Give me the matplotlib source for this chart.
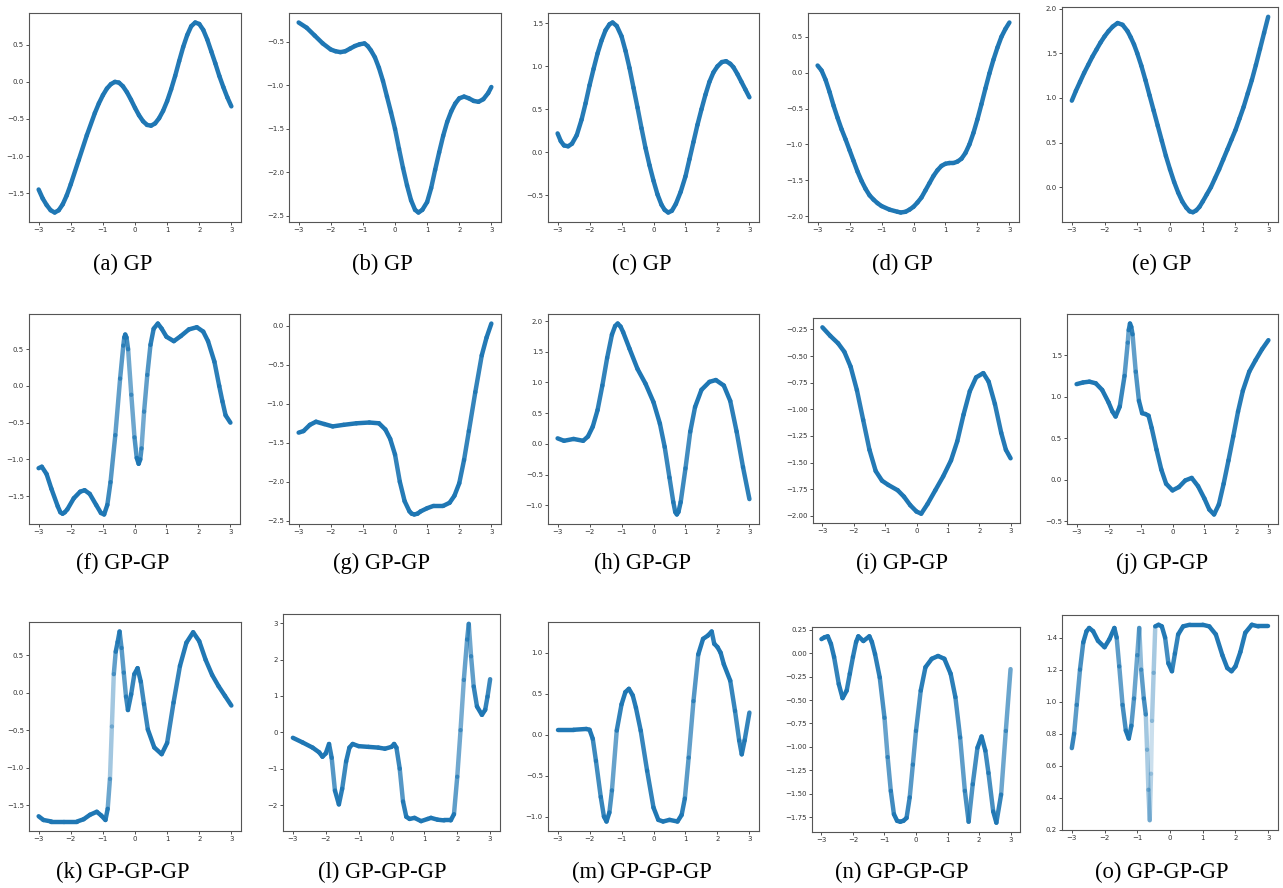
import numpy as np
import matplotlib
matplotlib.use("Agg")
import matplotlib.pyplot as plt
from matplotlib.collections import LineCollection
from matplotlib.colors import to_rgba

# ---------------- data ----------------
X_A = [-3, -2.875, -2.75, -2.625, -2.5, -2.375, -2.25, -2.125, -2, -1.75, -1.5, -1.25, -1.125, -1, -0.875, -0.75, -0.625, -0.5, -0.375, -0.25, -0.125, 0, 0.125, 0.25, 0.375, 0.5, 0.625, 0.75, 0.875, 1, 1.125, 1.25, 1.375, 1.5, 1.625, 1.75, 1.875, 2, 2.125, 2.25, 2.375, 2.5, 2.625, 2.75, 2.875, 3]
Y_A = [-1.45, -1.57, -1.66, -1.73, -1.76, -1.73, -1.65, -1.53, -1.38, -1.05, -0.72, -0.42, -0.29, -0.18, -0.09, -0.03, 0.0, -0.01, -0.06, -0.14, -0.24, -0.35, -0.45, -0.53, -0.58, -0.59, -0.56, -0.49, -0.39, -0.26, -0.10, 0.08, 0.28, 0.47, 0.63, 0.75, 0.80, 0.78, 0.70, 0.57, 0.41, 0.25, 0.08, -0.07, -0.21, -0.33]

X_B = [-3, -2.75, -2.5, -2.25, -2, -1.85, -1.7, -1.55, -1.4, -1.25, -1.1, -0.95, -0.85, -0.75, -0.625, -0.5, -0.375, -0.25, -0.125, 0, 0.125, 0.25, 0.375, 0.5, 0.625, 0.73, 0.85, 1, 1.125, 1.25, 1.375, 1.5, 1.625, 1.75, 1.875, 2, 2.15, 2.3, 2.45, 2.6, 2.75, 2.9, 3]
Y_B = [-0.28, -0.34, -0.43, -0.52, -0.59, -0.61, -0.62, -0.61, -0.58, -0.55, -0.53, -0.52, -0.55, -0.60, -0.68, -0.80, -0.95, -1.13, -1.31, -1.50, -1.73, -1.95, -2.15, -2.32, -2.43, -2.46, -2.43, -2.34, -2.18, -1.97, -1.77, -1.58, -1.42, -1.30, -1.21, -1.15, -1.13, -1.15, -1.18, -1.19, -1.16, -1.09, -1.02]

X_C = [-3, -2.9, -2.8, -2.67, -2.55, -2.4, -2.25, -2.125, -2, -1.875, -1.75, -1.625, -1.5, -1.375, -1.28, -1.15, -1.0, -0.875, -0.75, -0.625, -0.5, -0.375, -0.25, -0.125, 0, 0.125, 0.25, 0.35, 0.46, 0.575, 0.7, 0.85, 1, 1.125, 1.25, 1.375, 1.5, 1.625, 1.75, 1.875, 2, 2.14, 2.27, 2.4, 2.5, 2.625, 2.75, 2.875, 3]
Y_C = [0.22, 0.13, 0.08, 0.07, 0.10, 0.20, 0.38, 0.57, 0.78, 0.97, 1.15, 1.30, 1.42, 1.49, 1.51, 1.47, 1.35, 1.18, 0.98, 0.75, 0.52, 0.28, 0.05, -0.15, -0.33, -0.49, -0.61, -0.67, -0.70, -0.68, -0.60, -0.46, -0.28, -0.08, 0.12, 0.32, 0.50, 0.67, 0.82, 0.93, 1.00, 1.05, 1.06, 1.03, 0.99, 0.91, 0.82, 0.73, 0.64]

X_D = [-3, -2.875, -2.75, -2.625, -2.5, -2.375, -2.25, -2.125, -2, -1.875, -1.75, -1.625, -1.5, -1.375, -1.25, -1.125, -1, -0.75, -0.5, -0.4, -0.25, -0.125, 0, 0.125, 0.25, 0.375, 0.5, 0.625, 0.75, 0.875, 1, 1.125, 1.25, 1.375, 1.5, 1.625, 1.75, 1.875, 2, 2.125, 2.25, 2.375, 2.5, 2.625, 2.75, 2.875, 3]
Y_D = [0.10, 0.03, -0.10, -0.27, -0.46, -0.63, -0.79, -0.93, -1.08, -1.23, -1.38, -1.51, -1.62, -1.71, -1.77, -1.82, -1.86, -1.91, -1.94, -1.95, -1.94, -1.91, -1.87, -1.81, -1.74, -1.64, -1.54, -1.44, -1.36, -1.30, -1.27, -1.26, -1.26, -1.24, -1.20, -1.12, -1.00, -0.84, -0.65, -0.44, -0.22, -0.01, 0.18, 0.35, 0.50, 0.61, 0.70]

X_E = [-3, -2.875, -2.75, -2.625, -2.5, -2.375, -2.25, -2.125, -2, -1.875, -1.75, -1.6, -1.45, -1.3, -1.2, -1.1, -1, -0.875, -0.75, -0.625, -0.5, -0.375, -0.25, -0.125, 0, 0.125, 0.25, 0.375, 0.5, 0.6, 0.7, 0.8, 0.9, 1, 1.125, 1.25, 1.375, 1.5, 1.625, 1.75, 1.875, 2, 2.125, 2.25, 2.375, 2.5, 2.625, 2.75, 2.875, 3]
Y_E = [0.97, 1.08, 1.18, 1.28, 1.37, 1.46, 1.54, 1.62, 1.69, 1.75, 1.80, 1.84, 1.82, 1.75, 1.68, 1.60, 1.50, 1.36, 1.20, 1.03, 0.86, 0.69, 0.52, 0.35, 0.20, 0.06, -0.06, -0.16, -0.23, -0.27, -0.28, -0.26, -0.22, -0.16, -0.08, 0.00, 0.10, 0.20, 0.31, 0.42, 0.53, 0.64, 0.77, 0.90, 1.05, 1.20, 1.37, 1.55, 1.73, 1.91]

X_F = [-3, -2.9, -2.75, -2.6, -2.4, -2.32, -2.25, -2.18, -2.1, -1.9, -1.7, -1.56, -1.4, -1.2, -1.05, -0.95, -0.85, -0.75, -0.6, -0.45, -0.35, -0.32, -0.29, -0.25, -0.2, -0.1, 0.0, 0.07, 0.13, 0.18, 0.22, 0.3, 0.4, 0.5, 0.6, 0.73, 0.85, 1.0, 1.23, 1.45, 1.7, 1.95, 2.15, 2.3, 2.5, 2.65, 2.75, 2.85, 3]
Y_F = [-1.12, -1.10, -1.20, -1.40, -1.64, -1.72, -1.74, -1.72, -1.68, -1.53, -1.44, -1.42, -1.47, -1.62, -1.73, -1.75, -1.62, -1.31, -0.67, 0.10, 0.55, 0.66, 0.70, 0.66, 0.50, -0.12, -0.70, -0.98, -1.06, -1.00, -0.85, -0.35, 0.15, 0.56, 0.78, 0.85, 0.78, 0.67, 0.61, 0.68, 0.77, 0.80, 0.74, 0.61, 0.33, 0.00, -0.21, -0.40, -0.50]

X_G = [-3, -2.85, -2.65, -2.46, -2.2, -1.94, -1.6, -1.2, -0.8, -0.5, -0.3, -0.15, 0, 0.15, 0.3, 0.45, 0.52, 0.6, 0.7, 0.8, 1.0, 1.2, 1.5, 1.7, 1.85, 2.0, 2.15, 2.3, 2.5, 2.7, 2.85, 3]
Y_G = [-1.37, -1.35, -1.27, -1.23, -1.26, -1.29, -1.27, -1.25, -1.24, -1.25, -1.33, -1.45, -1.65, -2.00, -2.25, -2.38, -2.41, -2.42, -2.41, -2.38, -2.34, -2.31, -2.31, -2.27, -2.18, -2.02, -1.72, -1.35, -0.85, -0.38, -0.15, 0.03]

X_H = [-3, -2.8, -2.5, -2.2, -2.05, -1.9, -1.75, -1.6, -1.45, -1.3, -1.2, -1.12, -1.03, -0.95, -0.75, -0.5, -0.25, 0, 0.2, 0.35, 0.5, 0.62, 0.68, 0.73, 0.78, 0.85, 1.0, 1.15, 1.3, 1.5, 1.75, 1.95, 2.2, 2.4, 2.6, 2.8, 3]
Y_H = [0.09, 0.05, 0.08, 0.05, 0.12, 0.28, 0.55, 0.95, 1.40, 1.78, 1.92, 1.96, 1.91, 1.82, 1.55, 1.22, 0.98, 0.68, 0.33, -0.05, -0.55, -0.95, -1.11, -1.15, -1.11, -0.95, -0.40, 0.20, 0.60, 0.88, 1.01, 1.04, 0.95, 0.70, 0.20, -0.38, -0.90]

X_I = [-3, -2.75, -2.5, -2.3, -2.1, -1.9, -1.7, -1.5, -1.3, -1.1, -0.9, -0.6, -0.4, -0.2, 0.0, 0.15, 0.35, 0.6, 0.85, 1.1, 1.3, 1.5, 1.7, 1.9, 2.13, 2.3, 2.5, 2.7, 2.85, 3]
Y_I = [-0.23, -0.31, -0.38, -0.46, -0.60, -0.82, -1.10, -1.38, -1.58, -1.67, -1.71, -1.76, -1.82, -1.90, -1.96, -1.98, -1.89, -1.76, -1.63, -1.48, -1.30, -1.05, -0.83, -0.70, -0.66, -0.74, -0.95, -1.22, -1.38, -1.46]

X_J = [-3, -2.8, -2.6, -2.4, -2.2, -2.0, -1.88, -1.78, -1.65, -1.5, -1.4, -1.37, -1.33, -1.29, -1.25, -1.15, -1.05, -0.95, -0.85, -0.75, -0.65, -0.5, -0.35, -0.2, 0.0, 0.2, 0.4, 0.6, 0.8, 1.0, 1.15, 1.3, 1.45, 1.6, 1.75, 1.9, 2.05, 2.2, 2.4, 2.6, 2.8, 3]
Y_J = [1.15, 1.17, 1.18, 1.16, 1.08, 0.93, 0.82, 0.76, 0.88, 1.25, 1.65, 1.80, 1.88, 1.84, 1.75, 1.30, 0.95, 0.80, 0.79, 0.77, 0.62, 0.36, 0.12, -0.05, -0.13, -0.09, -0.01, 0.02, -0.08, -0.23, -0.36, -0.42, -0.30, -0.05, 0.23, 0.52, 0.82, 1.07, 1.30, 1.44, 1.57, 1.68]

X_K = [-3, -2.85, -2.6, -2.2, -1.8, -1.6, -1.4, -1.19, -1.05, -0.92, -0.85, -0.78, -0.72, -0.66, -0.6, -0.54, -0.48, -0.42, -0.35, -0.28, -0.22, -0.12, -0.02, 0.08, 0.18, 0.28, 0.4, 0.6, 0.83, 1.0, 1.2, 1.4, 1.6, 1.81, 2.0, 2.2, 2.4, 2.6, 2.8, 3]
Y_K = [-1.65, -1.70, -1.72, -1.72, -1.72, -1.69, -1.63, -1.59, -1.64, -1.70, -1.55, -1.15, -0.45, 0.25, 0.55, 0.68, 0.82, 0.60, 0.27, -0.05, -0.23, -0.02, 0.25, 0.33, 0.15, -0.15, -0.49, -0.73, -0.82, -0.67, -0.13, 0.36, 0.67, 0.81, 0.69, 0.44, 0.24, 0.09, -0.04, -0.17]

X_L = [-3, -2.7, -2.4, -2.2, -2.1, -2.0, -1.9, -1.82, -1.72, -1.6, -1.5, -1.38, -1.28, -1.18, -1.0, -0.7, -0.4, -0.2, 0.0, 0.08, 0.15, 0.25, 0.35, 0.45, 0.55, 0.7, 0.9, 1.1, 1.2, 1.4, 1.6, 1.8, 1.9, 2.0, 2.1, 2.2, 2.3, 2.35, 2.42, 2.5, 2.6, 2.75, 2.85, 2.92, 3]
Y_L = [-0.15, -0.28, -0.42, -0.55, -0.67, -0.58, -0.32, -0.70, -1.60, -1.98, -1.55, -0.80, -0.42, -0.32, -0.38, -0.40, -0.42, -0.45, -0.40, -0.32, -0.42, -1.00, -1.90, -2.32, -2.38, -2.35, -2.44, -2.38, -2.35, -2.40, -2.42, -2.42, -2.25, -1.22, 0.06, 1.44, 2.55, 2.98, 2.09, 1.26, 0.71, 0.48, 0.62, 0.98, 1.46]

X_M = [-3, -2.5, -2.1, -2.0, -1.9, -1.8, -1.65, -1.55, -1.47, -1.38, -1.3, -1.15, -1.0, -0.88, -0.77, -0.65, -0.55, -0.4, -0.2, 0.0, 0.15, 0.3, 0.5, 0.75, 0.88, 0.98, 1.1, 1.25, 1.4, 1.55, 1.7, 1.82, 1.9, 2.0, 2.1, 2.2, 2.4, 2.55, 2.68, 2.76, 2.85, 3]
Y_M = [0.06, 0.06, 0.07, 0.06, -0.05, -0.32, -0.76, -1.00, -1.06, -0.95, -0.68, 0.05, 0.37, 0.52, 0.56, 0.48, 0.33, 0.05, -0.44, -0.89, -1.04, -1.06, -1.04, -1.06, -0.98, -0.78, -0.28, 0.41, 0.98, 1.17, 1.21, 1.26, 1.11, 1.07, 1.00, 0.86, 0.66, 0.29, -0.07, -0.24, -0.07, 0.27]

X_N = [-3, -2.9, -2.8, -2.7, -2.6, -2.45, -2.33, -2.2, -2.1, -2.0, -1.9, -1.83, -1.67, -1.48, -1.4, -1.3, -1.15, -1.0, -0.9, -0.8, -0.7, -0.6, -0.5, -0.4, -0.3, -0.2, -0.1, 0.0, 0.15, 0.3, 0.5, 0.7, 0.9, 1.1, 1.25, 1.4, 1.55, 1.67, 1.8, 1.95, 2.08, 2.2, 2.3, 2.45, 2.55, 2.7, 2.85, 3]
Y_N = [0.15, 0.17, 0.18, 0.10, -0.04, -0.33, -0.48, -0.40, -0.22, -0.04, 0.12, 0.18, 0.13, 0.18, 0.12, -0.01, -0.26, -0.69, -1.11, -1.47, -1.72, -1.79, -1.80, -1.79, -1.76, -1.54, -1.19, -0.83, -0.40, -0.15, -0.06, -0.03, -0.06, -0.22, -0.47, -0.90, -1.47, -1.80, -1.40, -1.01, -0.89, -1.04, -1.28, -1.69, -1.81, -1.51, -0.83, -0.17]

X_O = [-3, -2.93, -2.85, -2.75, -2.65, -2.55, -2.47, -2.35, -2.2, -2.0, -1.85, -1.7, -1.63, -1.55, -1.45, -1.35, -1.26, -1.18, -1.1, -1.0, -0.94, -0.88, -0.8, -0.74, -0.7, -0.66, -0.62, -0.58, -0.55, -0.5, -0.45, -0.35, -0.25, -0.15, -0.05, 0.06, 0.15, 0.25, 0.4, 0.6, 1.0, 1.2, 1.4, 1.6, 1.75, 1.88, 2.0, 2.15, 2.3, 2.5, 2.7, 3]
Y_O = [0.71, 0.80, 0.98, 1.20, 1.37, 1.44, 1.46, 1.44, 1.38, 1.34, 1.39, 1.46, 1.40, 1.22, 0.98, 0.82, 0.77, 0.85, 1.02, 1.29, 1.46, 1.20, 1.02, 0.92, 0.70, 0.45, 0.26, 0.55, 0.88, 1.18, 1.47, 1.48, 1.47, 1.40, 1.24, 1.19, 1.30, 1.42, 1.47, 1.48, 1.48, 1.47, 1.42, 1.29, 1.21, 1.19, 1.22, 1.31, 1.43, 1.48, 1.47, 1.47]

X_TICKS = [-3, -2, -1, 0, 1, 2, 3]
YT_A = [-1.5, -1.0, -0.5, 0.0, 0.5]
YT_B = [-2.5, -2.0, -1.5, -1.0, -0.5]
YT_C = [-0.5, 0.0, 0.5, 1.0, 1.5]
YT_D = [-2.0, -1.5, -1.0, -0.5, 0.0, 0.5]
YT_E = [0.0, 0.5, 1.0, 1.5, 2.0]
YT_F = [-1.5, -1.0, -0.5, 0.0, 0.5]
YT_G = [-2.5, -2.0, -1.5, -1.0, -0.5, 0.0]
YT_H = [-1.0, -0.5, 0.0, 0.5, 1.0, 1.5, 2.0]
YT_I = [-2.0, -1.75, -1.5, -1.25, -1.0, -0.75, -0.5, -0.25]
YT_J = [-0.5, 0.0, 0.5, 1.0, 1.5]
YT_K = [-1.5, -1.0, -0.5, 0.0, 0.5]
YT_L = [-2, -1, 0, 1, 2, 3]
YT_M = [-1.0, -0.5, 0.0, 0.5, 1.0]
YT_N = [-1.75, -1.5, -1.25, -1.0, -0.75, -0.5, -0.25, 0.0, 0.25]
YT_O = [0.2, 0.4, 0.6, 0.8, 1.0, 1.2, 1.4]

CAPTIONS = ["(a) GP", "(b) GP", "(c) GP", "(d) GP", "(e) GP",
            "(f) GP-GP", "(g) GP-GP", "(h) GP-GP", "(i) GP-GP", "(j) GP-GP",
            "(k) GP-GP-GP", "(l) GP-GP-GP", "(m) GP-GP-GP", "(n) GP-GP-GP", "(o) GP-GP-GP"]

SERIES = [(X_A, Y_A, YT_A), (X_B, Y_B, YT_B), (X_C, Y_C, YT_C), (X_D, Y_D, YT_D), (X_E, Y_E, YT_E),
          (X_F, Y_F, YT_F), (X_G, Y_G, YT_G), (X_H, Y_H, YT_H), (X_I, Y_I, YT_I), (X_J, Y_J, YT_J),
          (X_K, Y_K, YT_K), (X_L, Y_L, YT_L), (X_M, Y_M, YT_M), (X_N, Y_N, YT_N), (X_O, Y_O, YT_O)]

# ---------------- layout (pixel boxes: left, top, right, bottom) ----------------
W, H = 1283, 888
BOXES = [(29, 13, 241, 222), (289, 13, 501, 222), (548, 13, 759, 222), (808, 13, 1019, 222), (1062, 7, 1278, 222),
         (29, 314, 240, 524), (289, 314, 501, 524), (548, 314, 759, 524), (813, 318, 1020, 523), (1067, 314, 1278, 524),
         (29, 622, 241, 831), (283, 614, 500, 831), (548, 622, 759, 831), (812, 627, 1020, 832), (1062, 615, 1278, 830)]
CAP_X = [123, 382, 642, 902, 1162]
CAP_Y = [264, 563, 872]

COLOR = "#1f77b4"
SPINE = "#555555"

fig = plt.figure(figsize=(W / 100, H / 100), dpi=100)

for idx, ((xs, ys, yt), box) in enumerate(zip(SERIES, BOXES)):
    l, t, r, b = box
    ax = fig.add_axes([l / W, 1 - b / H, (r - l) / W, (b - t) / H])
    ax.plot(xs, ys, alpha=0)
    ax.set_xticks(X_TICKS)
    ax.set_yticks(yt)
    ax.autoscale_view()
    ax.set_xlim(ax.get_xlim())
    ax.set_ylim(ax.get_ylim())
    # translucency from pixel slope (mimics dense semi-transparent scatter)
    pts = np.column_stack([xs, ys])
    disp = ax.transData.transform(pts)
    d = np.diff(disp, axis=0)
    ratio = np.abs(d[:, 0]) / np.hypot(d[:, 0], d[:, 1])
    alphas = 1 - (1 - 0.3) ** (40 * ratio)
    alphas = np.clip(alphas, 0.2, 1.0)
    base = np.array(to_rgba(COLOR))
    cols = np.tile(base, (len(alphas), 1))
    cols[:, 3] = alphas
    segs = np.stack([pts[:-1], pts[1:]], axis=1)
    lc = LineCollection(segs, colors=cols, linewidths=3.2, capstyle="round", joinstyle="round")
    ax.add_collection(lc, autolim=False)
    ax.tick_params(labelsize=5.0, length=2.2, width=0.6, pad=1.5, colors="#333333")
    for s in ax.spines.values():
        s.set_color(SPINE)
        s.set_linewidth(0.8)
    row, col = divmod(idx, 5)
    fig.text(CAP_X[col] / W, 1 - CAP_Y[row] / H, CAPTIONS[idx], ha="center", va="center",
             fontsize=16.3, family="Liberation Serif", color="black")

fig.savefig("out.png", dpi=100)
